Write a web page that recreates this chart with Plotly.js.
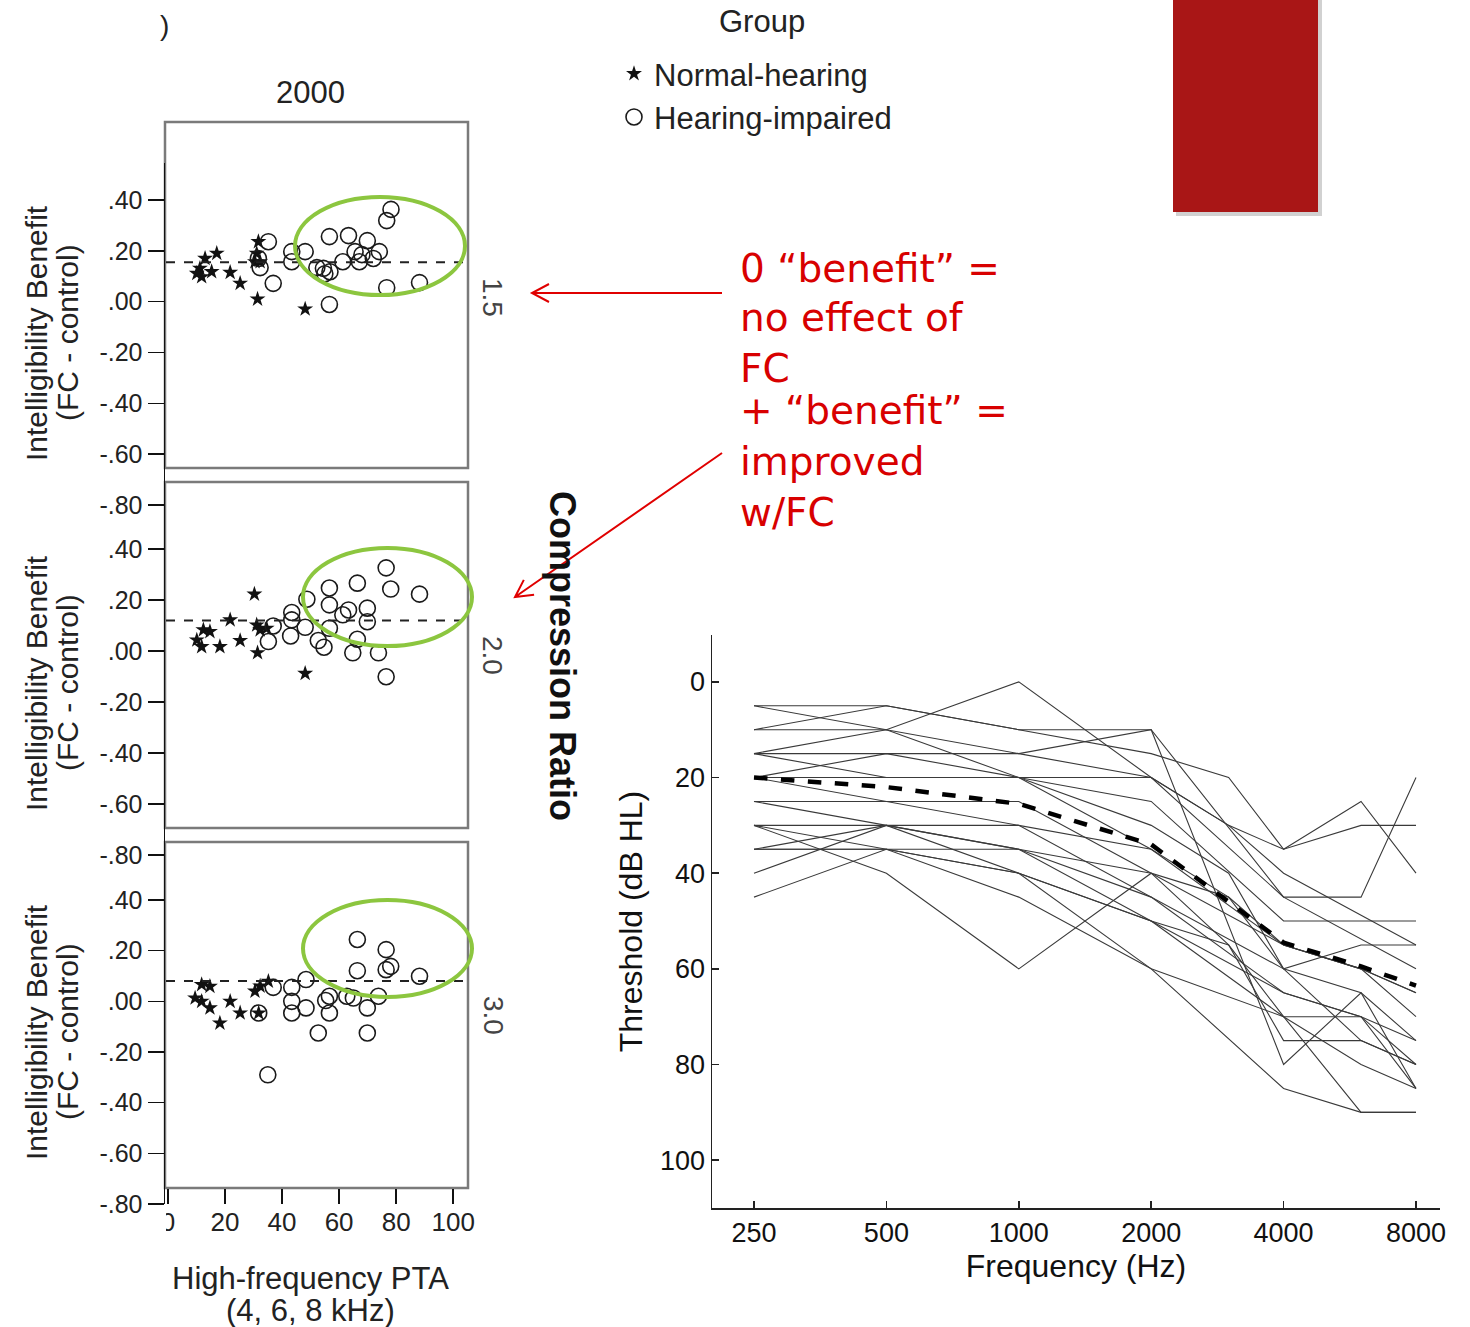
<!DOCTYPE html>
<html>
<head>
<meta charset="utf-8">
<script src="https://cdn.plot.ly/plotly-3.0.1.min.js"></script>
<style>html,body{margin:0;padding:0;background:#fff}#chart{width:1470px;height:1327px}</style>
</head>
<body>
<div id="chart"></div>
<script>
// ---------- DATA ----------
// Panel 1 (compression ratio 1.5)
const nh1x = [17.1, 13.0, 11.2, 10.1, 11.8, 15.3, 21.8, 25.3, 31.7, 31.1, 32.3, 30.5, 31.4, 48.1];
const nh1y = [0.19, 0.17, 0.131, 0.111, 0.098, 0.118, 0.115, 0.072, 0.236, 0.19, 0.157, 0.157, 0.01, -0.029];
const hi1x = [78.2, 76.7, 56.6, 63.3, 69.9, 74.1, 65.6, 35.2, 43.4, 43.4, 48.1, 32.3, 36.9, 56.6, 76.7, 88.2, 54.5, 56.8, 61.3, 67.1, 68.0, 52.2, 31.7, 72.0, 55.0];
const hi1y = [0.363, 0.319, 0.256, 0.26, 0.24, 0.197, 0.197, 0.236, 0.197, 0.157, 0.197, 0.134, 0.072, -0.011, 0.055, 0.075, 0.131, 0.118, 0.157, 0.157, 0.185, 0.134, 0.17, 0.17, 0.11];
// Panel 2 (compression ratio 2.0)
const nh2x = [30.3, 21.8, 12.4, 14.7, 10.1, 11.8, 18.2, 25.3, 31.1, 32.3, 34.6, 31.4, 48.1];
const nh2y = [0.223, 0.122, 0.083, 0.076, 0.043, 0.017, 0.017, 0.041, 0.102, 0.083, 0.089, -0.007, -0.088];
const hi2x = [76.5, 66.4, 78.1, 88.2, 56.6, 48.7, 56.6, 63.3, 61.3, 69.9, 69.9, 43.4, 43.4, 36.9, 48.1, 43.0, 35.2, 52.7, 54.7, 56.6, 66.4, 64.8, 73.8, 76.5];
const hi2y = [0.326, 0.266, 0.243, 0.223, 0.247, 0.203, 0.181, 0.161, 0.142, 0.168, 0.115, 0.151, 0.122, 0.098, 0.093, 0.059, 0.037, 0.041, 0.015, 0.089, 0.046, -0.007, -0.007, -0.101];
// Panel 3 (compression ratio 3.0)
const nh3x = [11.8, 14.7, 9.5, 11.8, 14.7, 21.8, 25.3, 18.2, 30.5, 32.3, 35.2, 31.8];
const nh3y = [0.066, 0.059, 0.013, 0.0, -0.026, 0.0, -0.046, -0.086, 0.04, 0.06, 0.079, -0.046];
const hi3x = [66.4, 76.5, 78.1, 76.5, 66.4, 88.2, 48.4, 36.9, 43.4, 73.8, 65.0, 56.6, 43.4, 55.3, 48.4, 43.4, 56.6, 69.9, 52.7, 69.9, 35.0, 31.8, 62.7];
const hi3y = [0.244, 0.204, 0.138, 0.125, 0.121, 0.099, 0.086, 0.055, 0.055, 0.02, 0.013, 0.02, 0.0, 0.003, -0.026, -0.046, -0.046, -0.026, -0.125, -0.125, -0.29, -0.046, 0.02];
// Dashed reference line per panel
const refLines = [0.155, 0.12, 0.08];
const panelLabels = ['1.5', '2.0', '3.0'];
const benefitTickVals = [0.4, 0.2, 0, -0.2, -0.4, -0.6, -0.8];
const benefitTickText = ['.40', '.20', '.00', '-.20', '-.40', '-.60', '-.80'];
const ptaTicks = [0, 20, 40, 60, 80, 100];

// Audiogram (hearing-impaired listeners), thresholds in dB HL
const freqs = [250, 500, 1000, 2000, 3000, 4000, 6000, 8000];
const freqTickVals = [250, 500, 1000, 2000, 4000, 8000];
const freqTickText = ['250', '500', '1000', '2000', '4000', '8000'];
const thrTicks = [0, 20, 40, 60, 80, 100];
const subj01 = [5, 5, 10, 10, null, 45, null, 60];
const subj02 = [10, 5, 10, 15, 20, 35, 25, 40];
const subj03 = [5, 10, 0, 20, 30, 40, null, 55];
const subj04 = [10, 10, 20, 20, 30, 35, 30, 30];
const subj05 = [15, 10, 15, 10, null, 80, 65, 75];
const subj06 = [15, 15, 15, 20, null, 45, 45, 20];
const subj07 = [15, 20, 20, 25, null, 50, 50, 50];
const subj08 = [20, 15, 20, 35, null, 55, 60, 65];
const subj09 = [20, 20, 20, 30, 40, 60, 65, 85];
const subj10 = [20, 25, 30, 35, 45, 60, 55, 55];
const subj11 = [25, 25, 25, 40, 55, 70, 70, 80];
const subj12 = [25, 30, 35, 45, null, 65, 70, 85];
const subj13 = [30, 30, 35, 40, null, 55, 60, 70];
const subj14 = [30, 40, 60, 40, 45, 55, 60, 65];
const subj15 = [35, 35, 35, 50, null, 70, 90, 90];
const subj16 = [35, 30, 30, 45, null, 60, 75, 80];
const subj17 = [35, 35, 40, 60, null, 85, 90, 90];
const subj18 = [40, 30, 40, 50, null, 65, 70, 75];
const subj19 = [45, 35, 45, 60, null, 70, 80, 85];
const subj20 = [30, 35, 40, 50, 55, 75, 75, 80];
const meanThr = [20, 22, 25.5, 34, 46, 54.5, 59.5, 63.5];

// ---------- HELPERS (pixel -> paper) ----------
const W = 1470, H = 1327;
const PX = x => x / W;
const PY = y => 1 - y / H;

// ---------- TRACES ----------
const traces = [];
const panels = [
  {nx: nh1x, ny: nh1y, hx: hi1x, hy: hi1y, ya: 'y'},
  {nx: nh2x, ny: nh2y, hx: hi2x, hy: hi2y, ya: 'y2'},
  {nx: nh3x, ny: nh3y, hx: hi3x, hy: hi3y, ya: 'y3'}
];
panels.forEach((p, i) => {
  traces.push({type: 'scatter', mode: 'markers', name: 'Normal-hearing', x: p.nx, y: p.ny, xaxis: 'x', yaxis: p.ya,
    marker: {symbol: 'star', size: 12, color: '#111', line: {width: 0}}, showlegend: i === 0, legendgroup: 'nh'});
  traces.push({type: 'scatter', mode: 'markers', name: 'Hearing-impaired', x: p.hx, y: p.hy, xaxis: 'x', yaxis: p.ya,
    marker: {symbol: 'circle-open', size: 16, color: '#1a1a1a', line: {width: 1.6, color: '#1a1a1a'}}, showlegend: i === 0, legendgroup: 'hi'});
});
const subjects = [subj01, subj02, subj03, subj04, subj05, subj06, subj07, subj08, subj09, subj10,
                  subj11, subj12, subj13, subj14, subj15, subj16, subj17, subj18, subj19, subj20];
subjects.forEach(s => {
  traces.push({type: 'scatter', mode: 'lines', x: freqs, y: s, xaxis: 'x2', yaxis: 'y4', connectgaps: true,
    line: {color: '#3a3a3a', width: 1.1}, showlegend: false, hoverinfo: 'skip'});
});
traces.push({type: 'scatter', mode: 'lines', x: freqs, y: meanThr, xaxis: 'x2', yaxis: 'y4',
  line: {color: '#000', width: 4.5, dash: 'dash'}, showlegend: false});

// ---------- LAYOUT ----------
const baseFont = 'Liberation Sans, Arial, sans-serif';
function benefitAxis(topPx, botPx, topPxTick, botPxTick) {
  const perPx = 1.2 / (botPxTick - topPxTick);
  return {
    domain: [PY(botPx), PY(topPx)],
    range: [-0.8 - (botPx - botPxTick) * perPx, 0.4 + (topPxTick - topPx) * perPx],
    anchor: 'x', automargin: false,
    showline: true, linecolor: '#111', linewidth: 1.5, mirror: false,
    ticks: 'outside', ticklen: 16, tickwidth: 1.5, tickcolor: '#111',
    tickvals: benefitTickVals, ticktext: benefitTickText,
    tickfont: {family: baseFont, size: 25, color: '#222'},
    showgrid: false, zeroline: false
  };
}

const shapes = [];
const annotations = [];
// panel frames
[[122, 468], [482, 828], [842, 1188]].forEach(b => {
  shapes.push({type: 'rect', xref: 'paper', yref: 'paper', x0: PX(165), x1: PX(468), y0: PY(b[1]), y1: PY(b[0]),
    line: {color: '#7a7a7a', width: 2.5}, fillcolor: 'rgba(0,0,0,0)', layer: 'below'});
});
// dashed reference lines
['y', 'y2', 'y3'].forEach((ya, i) => {
  shapes.push({type: 'line', xref: 'paper', yref: ya, x0: PX(166), x1: PX(468), y0: refLines[i], y1: refLines[i],
    line: {color: '#222', width: 2, dash: 'dash'}});
});
// green ellipses
[[295, 465, 197, 295], [303, 472, 548, 646], [303, 472, 900, 997]].forEach(e => {
  shapes.push({type: 'circle', xref: 'paper', yref: 'paper', x0: PX(e[0]), x1: PX(e[1]), y0: PY(e[3]), y1: PY(e[2]),
    line: {color: '#8cc63f', width: 4}, fillcolor: 'rgba(0,0,0,0)', layer: 'above'});
});
// mask to clip the "0" tick label as in the reference
shapes.push({type: 'rect', xref: 'paper', yref: 'paper', x0: PX(148), x1: PX(166), y0: PY(1245), y1: PY(1211),
  line: {width: 0}, fillcolor: '#fff', layer: 'above'});
// red block with soft shadow
shapes.push({type: 'rect', xref: 'paper', yref: 'paper', x0: PX(1176), x1: PX(1322), y0: PY(216), y1: PY(0),
  line: {width: 0}, fillcolor: 'rgba(0,0,0,0.18)'});
shapes.push({type: 'rect', xref: 'paper', yref: 'paper', x0: PX(1173), x1: PX(1318), y0: PY(212), y1: PY(0),
  line: {width: 0}, fillcolor: '#a91616'});
// red arrows (paths in paper coords)
function arrowPath(x1, y1, x2, y2) {
  const dx = x2 - x1, dy = y2 - y1, L = Math.hypot(dx, dy);
  const ux = dx / L, uy = dy / L, nx = -uy, ny = ux;
  const bx = x2 - 17 * ux, by = y2 - 17 * uy;
  const w1 = [bx + 9 * nx, by + 9 * ny], w2 = [bx - 9 * nx, by - 9 * ny];
  const f = (x, y) => PX(x).toFixed(5) + ',' + PY(y).toFixed(5);
  return 'M' + f(x1, y1) + ' L' + f(x2, y2) + ' M' + f(w1[0], w1[1]) + ' L' + f(x2, y2) + ' L' + f(w2[0], w2[1]);
}
shapes.push({type: 'path', xref: 'paper', yref: 'paper', path: arrowPath(722, 293, 532, 293), line: {color: '#e00000', width: 2}});
shapes.push({type: 'path', xref: 'paper', yref: 'paper', path: arrowPath(722, 453, 515, 597), line: {color: '#e00000', width: 2}});

// texts
const txt = (x, y, text, size, opts) => Object.assign({xref: 'paper', yref: 'paper', x: PX(x), y: PY(y), text: text,
  showarrow: false, xanchor: 'center', yanchor: 'middle', font: {family: baseFont, size: size, color: '#222'}}, opts || {});
annotations.push(txt(310, 93, '2000', 31));
annotations.push(txt(164, 25, ')', 28));
annotations.push(txt(762, 22, 'Group', 31));
// y-axis titles for the three benefit panels
[333, 683, 1032].forEach(yy => {
  annotations.push(txt(36, yy, 'Intelligibility Benefit', 30, {textangle: -90}));
  annotations.push(txt(67, yy, '(FC - control)', 30, {textangle: -90}));
});
// x-axis title of the benefit panels
annotations.push(txt(310, 1278, 'High-frequency PTA', 31));
annotations.push(txt(310, 1310, '(4, 6, 8 kHz)', 31));
[297, 655, 1015].forEach((yy, i) => {
  annotations.push(txt(493, yy, panelLabels[i], 28, {textangle: 90, font: {family: baseFont, size: 28, color: '#444'}}));
});
annotations.push(txt(563, 656, 'Compression Ratio', 36, {textangle: 90, font: {family: baseFont, size: 36, color: '#111', weight: 'bold'}}));
const redLines = [['0 \u201cbenefit\u201d =', 268], ['no effect of', 318], ['FC', 368],
                  ['+ \u201cbenefit\u201d =', 410], ['improved', 461], ['w/FC', 512]];
redLines.forEach(r => {
  annotations.push(txt(738, r[1], r[0], 39, {xanchor: 'left', font: {family: 'DejaVu Sans, sans-serif', size: 39, color: '#d80000'}}));
});

const layout = {
  width: W, height: H, autosize: false,
  margin: {l: 0, r: 0, t: 0, b: 0, pad: 0},
  paper_bgcolor: '#fff', plot_bgcolor: 'rgba(0,0,0,0)',
  font: {family: baseFont, color: '#222'},
  showlegend: true,
  legend: {x: PX(614), y: PY(47), xanchor: 'left', yanchor: 'top', bgcolor: 'rgba(0,0,0,0)',
    font: {family: baseFont, size: 31, color: '#222'}, itemwidth: 30, tracegroupgap: 0},
  xaxis: {
    domain: [PX(165), PX(468)], range: [-1.05, 105.2], anchor: 'y3', automargin: false,
    showline: false, ticks: 'inside', ticklen: 15, tickwidth: 1.5, tickcolor: '#111',
    tickvals: ptaTicks, tickfont: {family: baseFont, size: 26, color: '#222'},
    showgrid: false, zeroline: false
  },
  yaxis: benefitAxis(163, 505, 200, 505),
  yaxis2: benefitAxis(505, 855, 549, 855),
  yaxis3: benefitAxis(855, 1204, 900, 1204),
  xaxis2: {
    type: 'log', domain: [PX(712), PX(1440)], range: [Math.log10(250) - 42 / 439.9, Math.log10(8000) + 24 / 439.9],
    anchor: 'y4', automargin: false,
    showline: true, linecolor: '#222', linewidth: 1.5,
    ticks: 'inside', ticklen: 7, tickwidth: 1.5, tickcolor: '#222',
    tickvals: freqTickVals, ticktext: freqTickText, tickfont: {family: baseFont, size: 27, color: '#111'},
    showgrid: false, zeroline: false,
    title: {text: 'Frequency (Hz)', font: {family: baseFont, size: 32, color: '#111'}, standoff: 6}
  },
  yaxis4: {
    domain: [PY(1208), PY(635)], range: [110, -9.8], anchor: 'x2', automargin: false,
    showline: true, linecolor: '#222', linewidth: 1.5,
    ticks: 'inside', ticklen: 7, tickwidth: 1.5, tickcolor: '#222',
    tickvals: thrTicks, tickfont: {family: baseFont, size: 27, color: '#111'},
    showgrid: false, zeroline: false,
    title: {text: 'Threshold (dB HL)', font: {family: baseFont, size: 32, color: '#111'}, standoff: 8}
  },
  shapes: shapes,
  annotations: annotations
};

Plotly.newPlot('chart', traces, layout, {displayModeBar: false, staticPlot: true});
</script>
</body>
</html>
